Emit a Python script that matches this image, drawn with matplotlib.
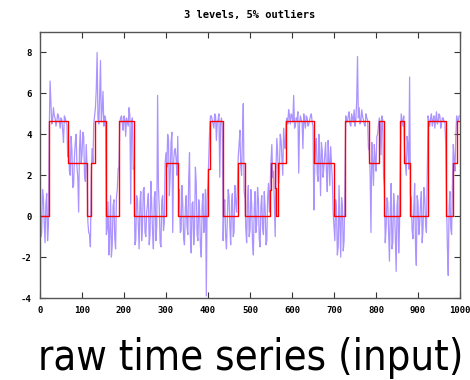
import numpy as np
import matplotlib
matplotlib.use("Agg")
import matplotlib.pyplot as plt

# ---- data ----
sample_step = 2
# samples at x = 0, 4, 8, ...
raw_values_a = (
    [1.6, -0.8, 0.9, -1.3, 1.1, -0.5] +
    [6.6, 4.5, 5.3, 4.8, 4.6, 4.9, 4.3, 4.7, 3.6, 4.8, 4.5] +
    [3.7, 2.0, 3.2, 1.5, 3.6, 2.4, 0.2, 4.2, 3.0, 3.9, 1.7, 2.5] +
    [-0.8, -1.5] +
    [3.3, 4.5] +
    [5.3, 8.0, 4.5, 7.6, 5.2, 4.4, 4.8] +
    [-0.6, -1.9, 1.0, -1.4, 0.8, -1.6, 1.3] +
    [2.4, 4.8, 4.5, 4.9, 3.9, 4.6, 5.3, 0.6, 4.8] +
    [2.4, -1.2, 0.8, -1.6, 1.2, -0.5, 1.4, -1.0, 0.6, -1.4, 1.7, -0.8, 0.9, -1.2, 5.9, 0.4, -1.5, 1.0, -0.3] +
    [3.1, 4.0, 1.0, 3.6, -0.8, 3.2, 2.8, 3.9] +
    [1.3, -0.7, 0.5, -1.4, 1.0, -0.9, 3.1, -1.8, 0.7, -0.6, 1.6, -1.2, 0.3, -2.0, 1.1, -0.4, -3.9] +
    [1.6, 4.3] +
    [4.9, 4.5, 5.0, 3.7, 4.7, 1.9, 4.8] +
    [-1.2, 0.8, -1.6, 1.3, -0.5, 0.6, -1.0, 1.5, 0.2] +
    [2.9, 4.2, 2.0, 5.5] +
    [0.9, -1.3, 1.5, -0.7, 0.6, -1.9, 1.2, -0.4, 0.8, -1.5, 1.0, -0.9, 0.4, -1.2, 1.6] +
    [1.5, 3.5, 2.2, -1.0, 3.8, 1.6, 4.0, 2.8, 4.3, 3.3] +
    [4.8, 5.2, 4.5, 4.9, 5.9, 4.4, 4.7, 2.1, 4.9, 4.6, 5.0, 4.3, 4.8, 4.5, 4.9, 4.6] +
    [0.3, 3.4, 2.1, 4.0, 1.0, 3.2, 2.4, 3.6, 1.2, 2.8, 3.4, 1.8] +
    [-0.5, 0.8, -1.9, 1.5, -2.0, 0.5, -1.2] +
    [4.9, 4.6, 5.1, 4.4, 4.8, 5.2, 4.7, 7.8, 5.3, 4.6, 4.9, 4.5, 5.0, 4.7] +
    [3.2, -0.8, 2.7, 3.5, 2.2, 4.0] +
    [4.8, 3.0, 4.7] +
    [1.4, -0.6, 0.7, -2.2, 1.6, -1.3, 0.4, -2.7, 1.0, -0.5] +
    [5.0, 4.4] +
    [3.2, 2.0, 3.5, 6.8] +
    [0.9, -1.1, 1.6, -2.4, 0.7, -0.4, 1.2, -0.6, 0.9, -0.8] +
    [4.9, 4.4, 5.0, 4.7, 4.3, 5.1, 4.6, 4.9, 4.5, 4.8, 4.6] +
    [0.6, -2.9, 1.2, -0.9] +
    [3.5, 2.2] +
    [4.9, 4.7]
)
# samples at x = 2, 6, 10, ...
raw_values_b = (
    [-1.0, 1.3, -0.3, 0.6, -1.2, 4.2] +
    [5.5, 4.7, 4.9, 4.4, 5.0, 4.6, 4.8, 4.2, 4.9, 4.6, 2.9] +
    [2.2, 3.9, 1.4, 2.9, 4.0, 1.9, 3.3, 2.6, 4.1, 2.0, 3.5, -0.3] +
    [-0.9, 1.9] +
    [2.6, 4.9] +
    [6.2, 4.8, 5.8, 4.6, 6.1, 4.9, -0.9] +
    [0.7, -0.9, -2.0, 0.5, -1.1, 0.9, 2.3] +
    [4.6, 4.9, 4.2, 4.7, 4.8, 4.4, 4.9, 4.6, 2.3] +
    [-1.4, 1.0, -0.4, 0.7, -1.2, 1.3, -0.8, 0.2, 1.1, -0.9, 0.6, -1.6, 1.2, -0.5, 1.4, -1.3, 0.8, -0.7, 2.6] +
    [2.4, 3.7, 2.0, 4.1, 2.6, 3.3, 2.0, 1.1] +
    [-0.8, 1.5, -1.1, 0.4, -0.5, 1.8, -1.0, 0.6, -1.4, 2.4, -0.9, 0.8, -1.5, 0.5, -0.8, 1.3, 0.9] +
    [3.0, 4.9] +
    [4.7, 4.3, 4.9, 4.6, 5.0, 4.5, 4.4] +
    [0.5, -1.0, -0.2, 1.0, -1.4, 1.1, -0.8, 0.7, 1.4] +
    [3.5, 2.4, 3.9, 1.2] +
    [-0.6, 0.7, -1.0, 1.3, -1.3, 0.3, -0.8, 1.4, -1.1, 0.5, -0.6, 1.2, -1.4, 0.9, 0.2] +
    [2.7, 1.9, 0.6, 2.5, 3.0, 2.2, 3.7, 2.0, 3.5, 4.6] +
    [4.5, 4.9, 5.0, 4.6, 4.3, 4.8, 5.1, 4.5, 4.7, 3.3, 4.6, 4.9, 4.4, 4.7, 5.0, 4.4] +
    [2.3, 3.8, 1.7, 2.9, 3.6, 1.9, 3.0, 2.2, 3.7, 1.5, 2.6, 0.2] +
    [-1.2, 0.3, -1.5, -0.4, 0.9, -1.7, 1.6] +
    [4.6, 4.9, 4.5, 5.0, 4.6, 4.4, 5.6, 4.8, 4.5, 5.2, 4.7, 4.4, 4.8, 3.3] +
    [2.1, 3.6, 1.5, 2.8, 3.9, 4.5] +
    [4.5, 4.9, 2.0] +
    [-1.3, 0.9, -0.8, 0.3, -1.6, 1.1, -1.0, 0.5, -1.8, 3.0] +
    [4.7, 4.9] +
    [2.6, 3.9, 2.3, 1.0] +
    [-0.7, 0.4, -1.4, 1.0, -0.9, 0.6, -1.3, 1.4, -0.3, 2.0] +
    [4.6, 4.8, 4.4, 4.9, 4.7, 4.5, 5.0, 4.3, 4.8, 4.6, 3.5] +
    [-1.5, 0.4, -0.6, 1.6] +
    [2.8, 3.9] +
    [4.6, 4.9]
)

step_x = [0, 22, 66, 113, 122, 131, 157, 187, 224, 299, 329, 399, 405, 436, 472, 487,
          548, 551, 559, 563, 567, 586, 652, 699, 727, 784, 806, 818, 857, 867, 882,
          923, 967, 984, 992, 1000]
step_levels = [0, 4.65, 2.6, 0, 2.6, 4.65, 0, 4.65, 0, 2.6, 0, 2.3, 4.65, 0, 2.6, 0,
               1.3, 2.6, 1.4, 0, 2.6, 4.65, 2.6, 0, 4.65, 2.6, 4.65, 0, 4.65, 2.6, 0,
               4.65, 0, 2.6, 4.65]

title = "3 levels, 5% outliers"
caption = "raw time series (input)"
x_ticks = [0, 100, 200, 300, 400, 500, 600, 700, 800, 900, 1000]
y_ticks = [-4, -2, 0, 2, 4, 6, 8]

# ---- plot ----
n = min(len(raw_values_a), len(raw_values_b))
raw_values = np.empty(2 * n)
raw_values[0::2] = raw_values_a[:n]
raw_values[1::2] = raw_values_b[:n]
t = np.arange(2 * n) * sample_step

fig = plt.figure(figsize=(4.7, 3.8), dpi=100)
ax = fig.add_axes([40/470, 1 - 298/380, 420/470, 266/380])

ax.plot(t, raw_values, color=(0.56, 0.44, 1.0), alpha=0.75, lw=0.9)
ax.plot(step_x, step_levels + [step_levels[-1]], drawstyle='steps-post',
        color='#ff0000', lw=1.0)

ax.set_xlim(0, 1000)
ax.set_ylim(-4, 9)
ax.set_xticks(x_ticks)
ax.set_yticks(y_ticks)
tickfont = dict(family='DejaVu Sans Mono', weight='bold', size=6.5)
ax.set_xticklabels([str(v) for v in x_ticks], **tickfont)
ax.set_yticklabels([str(v) for v in y_ticks], **tickfont)
ax.tick_params(direction='in', length=4, width=0.8, top=True, right=True,
               color='#333333', pad=6)
for s in ax.spines.values():
    s.set_color('#555555')
    s.set_linewidth(1.0)

fig.text(250/470, 1 - 15/380, title, ha='center', va='center',
         family='DejaVu Sans Mono', weight='bold', fontsize=7.5)
fig.text(251/470, 1 - 358/380, caption, ha='center', va='center',
         family='DejaVu Sans', stretch='condensed', fontsize=30)

fig.savefig('out.png', dpi=100)
